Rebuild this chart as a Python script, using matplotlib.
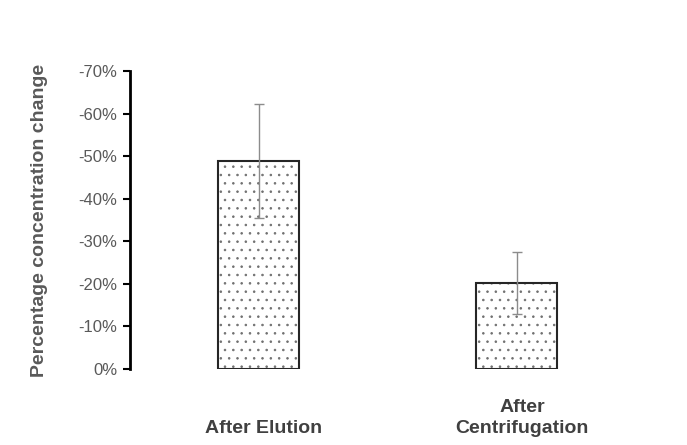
import numpy as np
from matplotlib import pyplot as plt
from matplotlib.ticker import FuncFormatter

plt.rcParams['font.family'] = ['Liberation Sans', 'DejaVu Sans']
plt.rcParams['hatch.linewidth'] = 0.6

# data (percentage change, negative = decrease)
categories = ["After Elution", "After\nCentrifugation"]
change = [-49.0, -20.3]
err = [13.4, 7.3]
yticks = [0, -10, -20, -30, -40, -50, -60, -70]

grey = "#595959"

fig = plt.figure(figsize=(6.87, 4.45), dpi=100)
ax = fig.add_axes([0.189, 0.171, 0.751, 0.669])

x = np.arange(len(categories))
# dotted fill first, then the outline on top
ax.bar(x, change, width=0.315, color="white", edgecolor="#6f6f6f",
       linewidth=0, hatch="..", zorder=2)
ax.bar(x, change, width=0.315, fill=False, edgecolor="#262626",
       linewidth=1.5, zorder=2)
ax.errorbar(x, change, yerr=err, fmt="none", ecolor="#8c8c8c",
            elinewidth=1.0, capsize=3.5, capthick=1.0, zorder=3)

ax.set_xlim(-0.5, 1.5)
ax.set_ylim(0, -70)  # inverted: -70% on top
ax.set_yticks(yticks)
ax.yaxis.set_major_formatter(FuncFormatter(lambda v, p: "%d%%" % v))
ax.tick_params(axis="y", direction="out", length=5, width=1.5,
               labelsize=12, labelcolor=grey, pad=4)
ax.set_xticks([])

for s in ["top", "right", "bottom"]:
    ax.spines[s].set_visible(False)
ax.spines["left"].set_linewidth(2)

ax.set_ylabel("Percentage concentration change", fontsize=14,
              fontweight="bold", color=grey, labelpad=22)

# category labels under the bars
for i, lab in enumerate(categories):
    ax.text(x[i] + 0.02, -0.228, lab, transform=ax.get_xaxis_transform(),
            ha="center", va="bottom", fontsize=14, fontweight="bold",
            color="#404040", linespacing=1.3)

fig.savefig("out.png", dpi=100)
